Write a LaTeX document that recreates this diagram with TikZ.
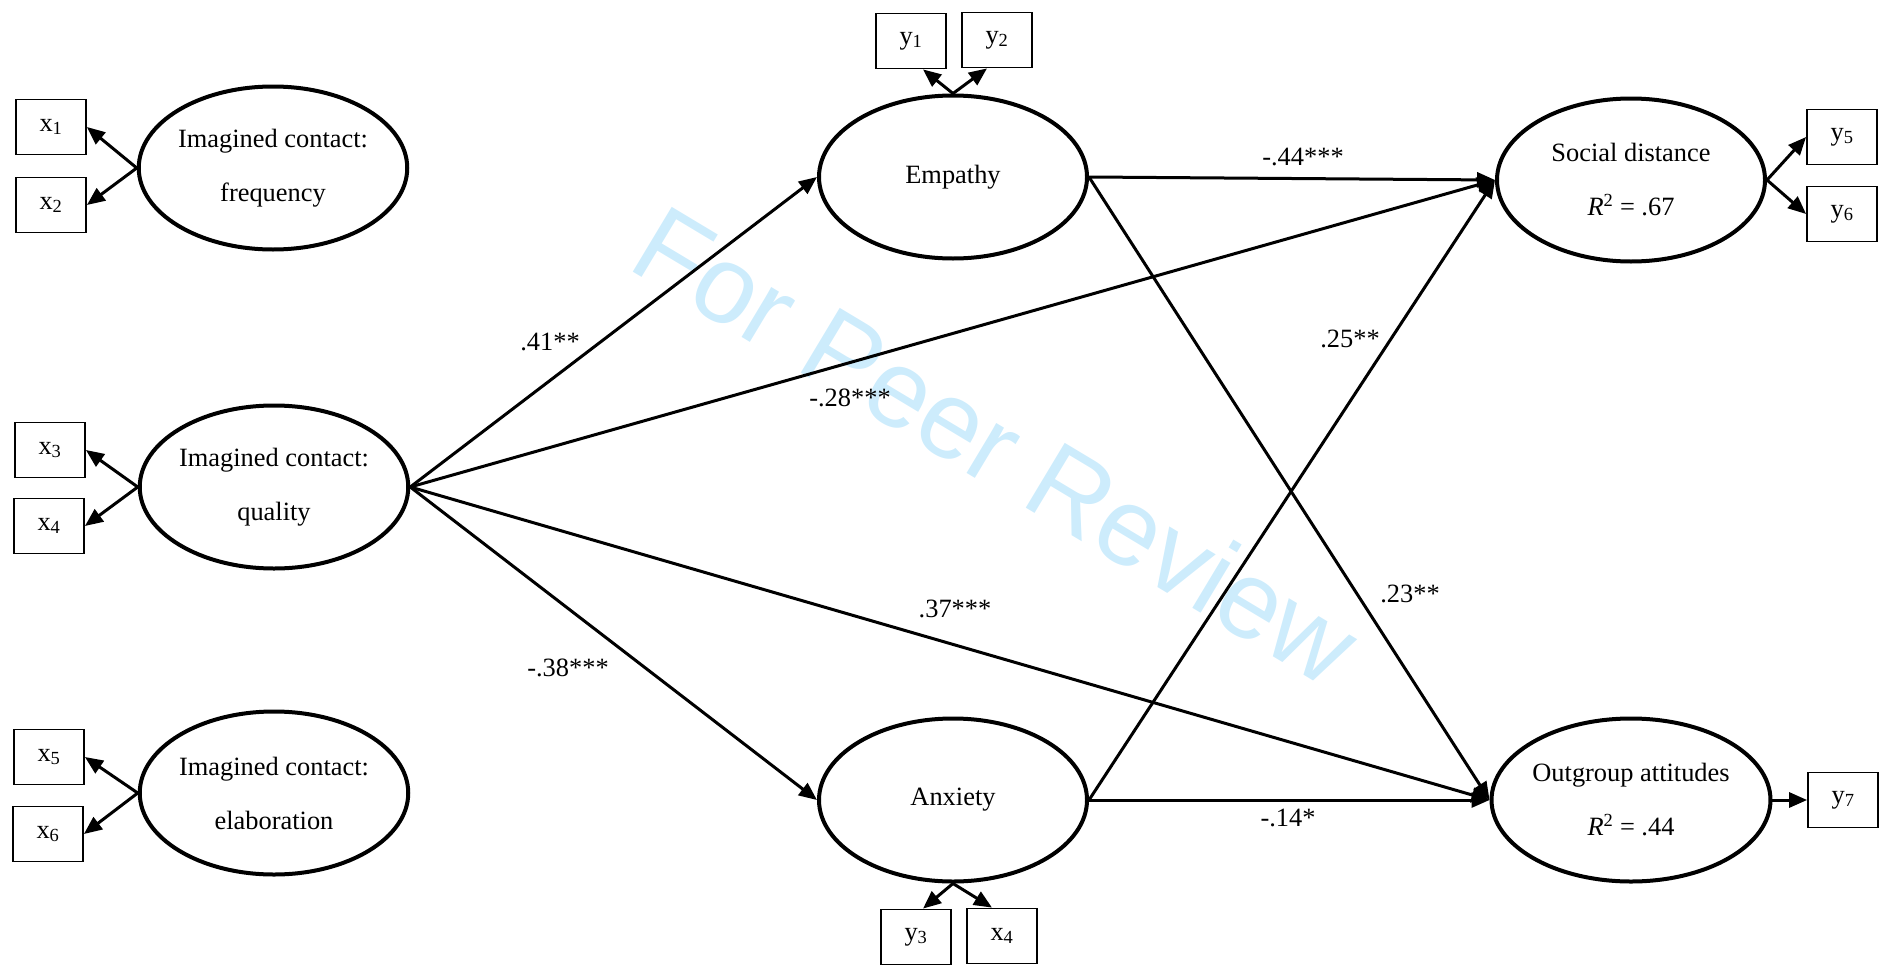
\documentclass[tikz,border=0pt]{standalone}
\usepackage{fontspec}
\setmainfont{Liberation Serif}
\newfontfamily\wmfont{Liberation Sans}
\usetikzlibrary{shapes.geometric,arrows.meta}
\definecolor{wm}{RGB}{205,236,252}
\begin{document}
\begin{tikzpicture}[x=1pt,y=-1pt,
  latent/.style={ellipse,draw,line width=4pt,minimum width=268pt,minimum height=163pt,inner sep=0pt,align=center,font=\fontsize{26.4}{54}\selectfont},
  obs/.style={rectangle,draw,line width=1.8pt,minimum width=70pt,minimum height=55pt,inner sep=0pt,font=\fontsize{26.4}{30}\selectfont},
  conn/.style={line width=3pt,-{Triangle[length=18pt,width=15pt]}},
  coef/.style={font=\fontsize{26.4}{30}\selectfont,inner sep=0pt},
]
\useasboundingbox (0,0) rectangle (1887,969);
\node[rotate=-31,text=wm,font=\wmfont\fontsize{110}{110}\selectfont] (wmark) at (997,445) {For Peer Review};

% latent variables
\node[latent] (freq) at (273,168) {Imagined contact:\\frequency};
\node[latent] (qual) at (274,487) {Imagined contact:\\quality};
\node[latent] (elab) at (274,793) {Imagined contact:\\elaboration};
\node[latent] (emp) at (953,177) {Empathy};
\node[latent] (anx) at (953,800) {Anxiety};
\node[latent] (soc) at (1631,180) {Social distance\\\textit{R}\textsuperscript{2} = .67};
\node[latent] (out) at (1631,800) {Outgroup attitudes\\\textit{R}\textsuperscript{2} = .44};

% indicators
\node[obs] (x1) at (51,127) {x\textsubscript{1}};
\node[obs] (x2) at (51,205) {x\textsubscript{2}};
\node[obs] (x3) at (50,450) {x\textsubscript{3}};
\node[obs] (x4) at (49,526) {x\textsubscript{4}};
\node[obs] (x5) at (49,757) {x\textsubscript{5}};
\node[obs] (x6) at (48,834) {x\textsubscript{6}};
\node[obs] (y1) at (911,41) {y\textsubscript{1}};
\node[obs] (y2) at (997,40) {y\textsubscript{2}};
\node[obs] (y3) at (916,937) {y\textsubscript{3}};
\node[obs] (x4b) at (1002,936) {x\textsubscript{4}};
\node[obs] (y5) at (1842,137) {y\textsubscript{5}};
\node[obs] (y6) at (1842,214) {y\textsubscript{6}};
\node[obs] (y7) at (1843,800) {y\textsubscript{7}};

% measurement arrows
\draw[conn] (freq.west) -- (x1.east);
\draw[conn] (freq.west) -- (x2.east);
\draw[conn] (qual.west) -- (x3.east);
\draw[conn] (qual.west) -- (x4.east);
\draw[conn] (elab.west) -- (x5.east);
\draw[conn] (elab.west) -- (x6.east);
\draw[conn] (emp.north) -- ([xshift=12pt]y1.south);
\draw[conn] (emp.north) -- ([xshift=-10pt]y2.south);
\draw[conn] (anx.south) -- ([xshift=7pt]y3.north);
\draw[conn] (anx.south) -- ([xshift=-10pt]x4b.north);
\draw[conn] (soc.east) -- (y5.west);
\draw[conn] (soc.east) -- (y6.west);
\draw[conn] (out.east) -- (y7.west);

% structural paths
\draw[conn] (qual.east) -- (emp.west);
\draw[conn] (qual.east) -- (soc.west);
\draw[conn] (qual.east) -- (out.west);
\draw[conn] (qual.east) -- (anx.west);
\draw[conn] (emp.east) -- (soc.west);
\draw[conn] (emp.east) -- (out.west);
\draw[conn] (anx.east) -- (soc.west);
\draw[conn] (anx.east) -- (out.west);

% coefficients
\node[coef] (c1) at (550,342) {.41**};
\node[coef] (c2) at (850,398) {-.28***};
\node[coef] (c3) at (568,668) {-.38***};
\node[coef] (c4) at (1303,157) {-.44***};
\node[coef] (c5) at (1288,818) {-.14*};
\node[coef] (c6) at (1350,339) {.25**};
\node[coef] (c7) at (955,609) {.37***};
\node[coef] (c8) at (1410,594) {.23**};
\end{tikzpicture}
\end{document}
